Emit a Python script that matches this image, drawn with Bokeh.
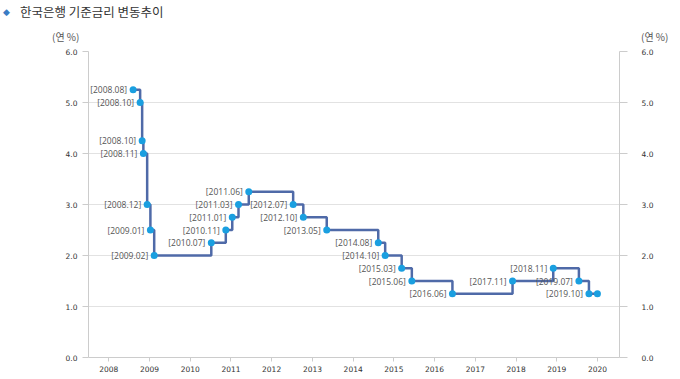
import pandas as pd
from bokeh.plotting import figure
from bokeh.layouts import column
from bokeh.models import (Range1d, LinearAxis, FixedTicker, DatetimeTickFormatter,
                          PrintfTickFormatter, ColumnDataSource, Div)
from bokeh.core.properties import value
from bokeh.embed import file_html
from bokeh.resources import INLINE

# ---- data ----
dates = ["2008-08-07", "2008-10-09", "2008-10-27", "2008-11-07", "2008-12-11",
         "2009-01-09", "2009-02-12", "2010-07-09", "2010-11-16", "2011-01-13",
         "2011-03-10", "2011-06-10", "2012-07-12", "2012-10-11", "2013-05-09",
         "2014-08-14", "2014-10-15", "2015-03-12", "2015-06-11", "2016-06-09",
         "2017-11-30", "2018-11-30", "2019-07-18", "2019-10-16", "2019-12-31"]
rates = [5.25, 5.00, 4.25, 4.00, 3.00, 2.50, 2.00, 2.25, 2.50, 2.75, 3.00, 3.25,
         3.00, 2.75, 2.50, 2.25, 2.00, 1.75, 1.50, 1.25, 1.50, 1.75, 1.50, 1.25, 1.25]
point_labels = ["[2008.08]", "[2008.10]", "[2008.10]", "[2008.11]", "[2008.12]",
                "[2009.01]", "[2009.02]", "[2010.07]", "[2010.11]", "[2011.01]",
                "[2011.03]", "[2011.06]", "[2012.07]", "[2012.10]", "[2013.05]",
                "[2014.08]", "[2014.10]", "[2015.03]", "[2015.06]", "[2016.06]",
                "[2017.11]", "[2018.11]", "[2019.07]", "[2019.10]", ""]
year_ticks = [str(y) + "-01-01" for y in range(2008, 2021)]
y_ticks = [0, 1, 2, 3, 4, 5, 6]
title_text = "한국은행 기준금리 변동추이"
unit_text = "(연 %)"

W = 680
HH = 44            # header height
H = 379 - HH       # main chart height
FL, FR = 88, 619   # frame left/right (px)

# ---------------- header (title + unit captions) ----------------
font = "'Noto Sans CJK KR', 'Noto Sans', sans-serif"
header_html = (
    f'<div style="position:relative;width:{W}px;height:{HH}px;font-family:{font};'
    f'white-space:nowrap;">'
    f'<span style="position:absolute;left:3px;top:5px;font-size:9px;line-height:14px;'
    f'color:#3a7cc4;font-family:\'DejaVu Sans\';">◆</span>'
    f'<span style="position:absolute;left:20px;top:3px;font-size:12.5px;line-height:18px;'
    f'color:#333333;">{title_text}</span>'
    f'<span style="position:absolute;left:52px;top:30px;font-size:10px;line-height:14px;'
    f'color:#555555;">{unit_text}</span>'
    f'<span style="position:absolute;left:641px;top:30px;font-size:10px;line-height:14px;'
    f'color:#555555;">{unit_text}</span>'
    f'</div>'
)
hdr = Div(text=header_html, width=W, height=HH, margin=0)

# ---------------- main chart ----------------
src = ColumnDataSource(dict(date=pd.to_datetime(dates), rate=rates, label=point_labels))

FT, FB = 51 - HH, 357 - HH   # frame top/bottom in main-figure px
X0, X1 = pd.Timestamp("2007-07-04"), pd.Timestamp("2020-07-16")

p = figure(width=W, height=H, x_axis_type="datetime", output_backend="svg",
           toolbar_location=None,
           x_range=Range1d(X0, X1), y_range=Range1d(0, 6),
           min_border_left=FL, min_border_right=W - FR,
           min_border_top=FT, min_border_bottom=H - FB)
p.outline_line_color = None
p.background_fill_color = "white"
p.border_fill_color = "white"

# grids
p.xgrid.visible = False
p.ygrid.grid_line_color = "#e2e2e2"
p.ygrid.ticker = FixedTicker(ticks=y_ticks)

# x axis
xa = p.xaxis[0]
xa.ticker = FixedTicker(ticks=[pd.Timestamp(t).value / 1e6 for t in year_ticks])
xa.formatter = DatetimeTickFormatter(years="%Y", months="%Y", days="%Y", hours="%Y")
xa.axis_line_color = "#cccccc"
xa.major_tick_line_color = "#cccccc"
xa.major_tick_out = 4
xa.major_tick_in = 0
xa.minor_tick_line_color = None
xa.major_label_standoff = 4
xa.major_label_text_font = "DejaVu Sans"
xa.major_label_text_font_size = "7.5px"
xa.major_label_text_color = "#333333"

# left y axis
ya = p.yaxis[0]
ya.ticker = FixedTicker(ticks=y_ticks)
ya.formatter = PrintfTickFormatter(format="%.1f")
ya.axis_line_color = "#cccccc"
ya.major_tick_line_color = "#cccccc"
ya.major_tick_out = 6
ya.major_tick_in = 0
ya.minor_tick_line_color = None
ya.major_label_standoff = 5
ya.major_label_text_font = "DejaVu Sans"
ya.major_label_text_font_size = "7.5px"
ya.major_label_text_color = "#333333"

# right y axis
ra = LinearAxis(ticker=FixedTicker(ticks=y_ticks), formatter=PrintfTickFormatter(format="%.1f"))
ra.axis_line_color = "#cccccc"
ra.major_tick_line_color = "#cccccc"
ra.major_tick_out = 8
ra.major_tick_in = 0
ra.minor_tick_line_color = None
ra.major_label_standoff = 14
ra.major_label_text_font = "DejaVu Sans"
ra.major_label_text_font_size = "7.5px"
ra.major_label_text_color = "#333333"
p.add_layout(ra, "right")

# step line, markers, labels
p.step(x="date", y="rate", source=src, mode="after", line_color="#4f6aa8", line_width=2.5)
p.scatter(x="date", y="rate", source=src, size=7, fill_color="#1a9fe0", line_color=None)
p.text(x="date", y="rate", text="label", source=src, text_align="right",
       text_baseline="middle", x_offset=-6, text_font=value("Open Sans"),
       text_font_size="8.5px", text_color="#555555")

layout = column(hdr, p, spacing=0)
open("out.html", "w").write(file_html(layout, INLINE))
